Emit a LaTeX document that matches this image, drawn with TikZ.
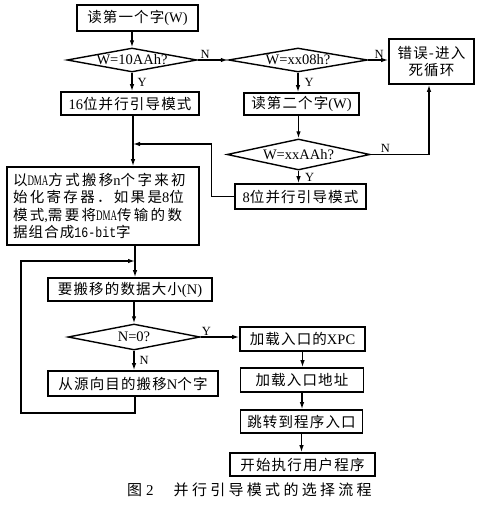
\documentclass[tikz,border=0pt]{standalone}
\usepackage{fontspec}
\setmainfont{Liberation Serif}
\newfontfamily\cjk[LetterSpace=8]{Noto Sans CJK SC}
\newfontfamily\cjkw[LetterSpace=16]{Noto Sans CJK SC}
\newfontfamily\cjkcap[LetterSpace=22]{Noto Sans CJK SC}
\newfontfamily\narrowlat[FakeStretch=0.62]{Liberation Serif}
\newfontfamily\monolat[FakeStretch=0.8]{Liberation Mono}
\usetikzlibrary{shapes.geometric,arrows.meta}
\begin{document}
\begin{tikzpicture}[x=1pt,y=-1pt,
  every node/.style={font=\fontsize{14.5pt}{15.7pt}\selectfont},
  box/.style={draw,line width=1.6pt,inner sep=0pt,align=center},
  dia/.style={draw,diamond,aspect=1,inner sep=0pt,line width=1.4pt},
  lbl/.style={font=\fontsize{12.5pt}{13pt}\selectfont,inner sep=1pt},
  arr/.style={line width=1.3pt,-{Latex[length=7pt,width=4.5pt]}}]
\useasboundingbox[fill=white] (0,0) rectangle (481,511);

\node[box,minimum width=121pt,minimum height=26pt] (b1) at (137.5,18) {{\cjk 读第一个字}(W)};
\node[dia,minimum width=130pt,minimum height=24pt] (d1) at (132,60) {\makebox[0pt]{W=10AAh?}};
\node[dia,minimum width=139pt,minimum height=24pt] (d2) at (298,60) {\makebox[0pt]{W=xx08h?}};
\node[box,minimum width=85pt,minimum height=45pt] (err) at (431.5,61.5) {{\cjk 错误-进入}\\[2pt]{\cjk 死循环}};
\node[box,minimum width=138pt,minimum height=23pt] (b16) at (130,103.5) {16{\cjk 位并行引导模式}};
\node[box,minimum width=115pt,minimum height=22pt] (b2) at (301.5,104) {{\cjk 读第二个字}(W)};
\node[dia,minimum width=143pt,minimum height=31pt] (d3) at (298.5,154.5) {\makebox[0pt]{W=xxAAh?}};
\node[box,minimum width=131pt,minimum height=25pt] (b8) at (300.5,196.5) {8{\cjk 位并行引导模式}};
\node[box,minimum width=192pt,minimum height=78pt,text width=180pt,align=left,
  font=\fontsize{14.5pt}{17.5pt}\selectfont] (dma) at (103,206)
  {{\cjkw 以}{\narrowlat DMA}{\cjkw 方式搬移}n{\cjkw 个字来初}\\
   {\cjkw 始化寄存器．如果是}8{\cjkw 位}\\
   {\cjkw 模式},{\cjkw 需要将}{\narrowlat DMA}{\cjkw 传输的数}\\
   {\cjk 据组合成}{\monolat 16-bit}{\cjk 字}};
\node[box,minimum width=164pt,minimum height=23pt] (bn) at (130,289.5) {{\cjk 要搬移的数据大小}(N)};
\node[dia,minimum width=132pt,minimum height=26pt] (d4) at (134,337) {\makebox[0pt]{N=0?}};
\node[box,minimum width=170pt,minimum height=25pt] (bm) at (133,383.5) {{\cjk 从源向目的搬移}N{\cjk 个字}};
\node[box,minimum width=125pt,minimum height=24pt] (xpc) at (302.5,339) {{\cjk 加载入口的}XPC};
\node[box,minimum width=123pt,minimum height=24pt] (addr) at (302,380) {{\cjk 加载入口地址}};
\node[box,minimum width=122pt,minimum height=23pt] (jump) at (301.5,421.5) {{\cjk 跳转到程序入口}};
\node[box,minimum width=145pt,minimum height=23pt] (start) at (302.5,464.5) {{\cjk 开始执行用户程序}};
\node[anchor=west,inner sep=0pt,font=\fontsize{15pt}{16pt}\selectfont] (cap) at (127,490)
  {{\cjk 图}\hspace{4pt}2\hspace{20pt}{\cjkcap 并行引导模式的选择流程}};

\coordinate (j1) at (133,144);
\coordinate (j2) at (135,261);
\coordinate (l1) at (21,413);
\coordinate (e1) at ([xshift=-2.5pt]err.south);

\draw[arr] (b1.south -| d1.north) -- (d1.north);
\draw[arr] (d1.east) -- node[lbl,pos=0.25,above]{N} (d2.west);
\draw[arr] (d1.south) -- node[lbl,right,xshift=4pt]{Y} (d1.south |- b16.north);
\draw[arr] (d2.east) -- node[lbl,pos=0.55,above]{N} (d2.east -| err.west);
\draw[arr] (d2.south) -- node[lbl,right,xshift=5pt]{Y} (d2.south |- b2.north);
\draw[arr] (b2.south -| d3.north) -- (d3.north);
\draw[arr] (d3.east) -- node[lbl,pos=0.25,above]{N} (d3.east -| e1) -- (e1);
\draw[arr] (d3.south) -- node[lbl,right,xshift=5pt]{Y} (d3.south |- b8.north);
\draw[arr] (b8.west) -- ++(-23,0) |- (j1);
\draw[arr] (b16.south -| j1) -- (dma.north -| j1);
\draw[arr] (dma.south -| j2) -- (bn.north -| j2);
\draw[arr] (bn.south -| d4.north) -- (d4.north);
\draw[arr] (d4.south) -- node[lbl,right,xshift=4pt]{N} (d4.south |- bm.north);
\draw[arr] (d4.east) -- node[lbl,pos=0.15,above]{Y} (d4.east -| xpc.west);
\draw[arr] (bm.south -| j2) |- (l1) |- (j2);
\draw[arr] (xpc.south) -- (xpc.south |- addr.north);
\draw[arr] (addr.south) -- (addr.south |- jump.north);
\draw[arr] (jump.south) -- (jump.south |- start.north);
\end{tikzpicture}
\end{document}
